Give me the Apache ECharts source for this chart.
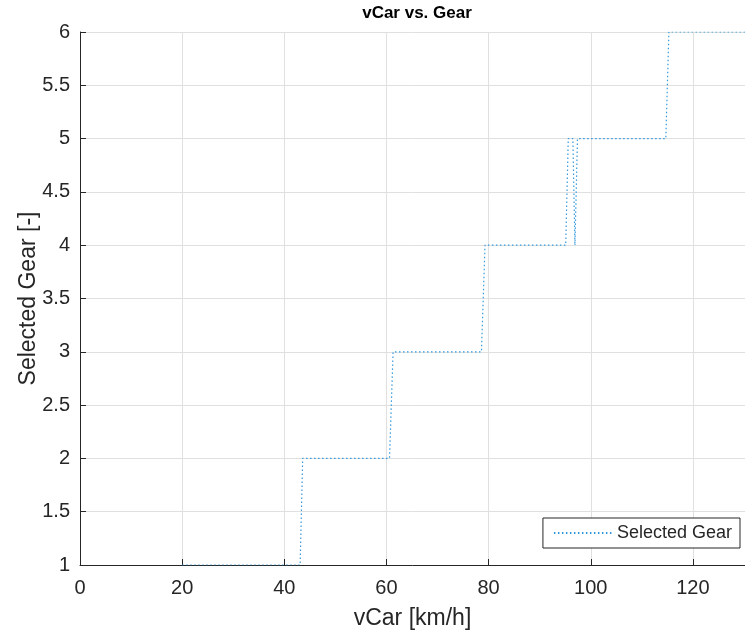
<!DOCTYPE html>
<html><head><meta charset="utf-8">
<script src="https://cdn.jsdelivr.net/npm/echarts@6/dist/echarts.min.js"></script>
<style>html,body{margin:0;padding:0;background:#fff}#c{width:745px;height:632px}</style>
</head><body><div id="c"></div>
<script>
const vCar = [20, 43.1, 43.6, 60.6, 61.3, 78.6, 79.3, 95.1, 95.6, 96.5, 96.9, 97.4, 114.7, 115.3, 131];
const gear = [1, 1, 2, 2, 3, 3, 4, 4, 5, 5, 4, 5, 5, 6, 6];
const seriesName = 'Selected Gear';
const titleText = 'vCar vs. Gear';
const xName = 'vCar [km/h]';
const yName = 'Selected Gear [-]';

const font = 'Liberation Sans, Arial, Helvetica, sans-serif';
const dark = '#262626';
const lineColor = '#3399dc';
const chart = echarts.init(document.getElementById('c'));
chart.setOption({
  animation: false,
  backgroundColor: '#fff',
  title: { text: titleText, left: 412, top: 0, textAlign: 'center',
    textStyle: { fontFamily: font, fontSize: 17, fontWeight: 'bold', color: '#000' } },
  grid: { left: 80, right: 0, top: 32, bottom: 67, outerBoundsMode: 'none', containLabel: false },
  xAxis: {
    type: 'value', min: 0, max: 130.2, interval: 20,
    name: xName, nameLocation: 'middle', nameGap: 42, nameMoveOverlap: false,
    nameTextStyle: { fontFamily: font, fontSize: 23, color: dark },
    axisLine: { show: true, lineStyle: { color: dark, width: 1 } },
    axisTick: { show: true, inside: true, length: 6, lineStyle: { color: dark } },
    axisLabel: { fontFamily: font, fontSize: 20, color: dark, margin: 13, showMaxLabel: false },
    splitLine: { show: true, lineStyle: { color: '#e0e0e0', width: 1 } }
  },
  yAxis: {
    type: 'value', min: 1, max: 6, interval: 0.5,
    name: yName, nameLocation: 'middle', nameGap: 40, nameMoveOverlap: false,
    nameTextStyle: { fontFamily: font, fontSize: 23, color: dark },
    axisLine: { show: true, lineStyle: { color: dark, width: 1 } },
    axisTick: { show: true, inside: true, length: 6, lineStyle: { color: dark } },
    axisLabel: { fontFamily: font, fontSize: 20, color: dark, margin: 10 },
    splitLine: { show: true, lineStyle: { color: '#e0e0e0', width: 1 } }
  },
  legend: {
    show: true, right: 5, bottom: 84, orient: 'vertical',
    backgroundColor: '#fff', borderColor: dark, borderWidth: 1,
    padding: [6, 8, 6, 10], itemWidth: 58, itemHeight: 14, itemGap: 8,
    itemStyle: { opacity: 0 },
    textStyle: { fontFamily: font, fontSize: 18, color: dark },
    data: [seriesName]
  },
  series: [{
    name: seriesName, type: 'line', symbol: 'none', showSymbol: false, clip: true,
    data: vCar.map((v, i) => [v, gear[i]]),
    lineStyle: { color: lineColor, width: 1.2, type: [1.5, 2.5] },
    itemStyle: { color: lineColor }
  }]
});
</script></body></html>
